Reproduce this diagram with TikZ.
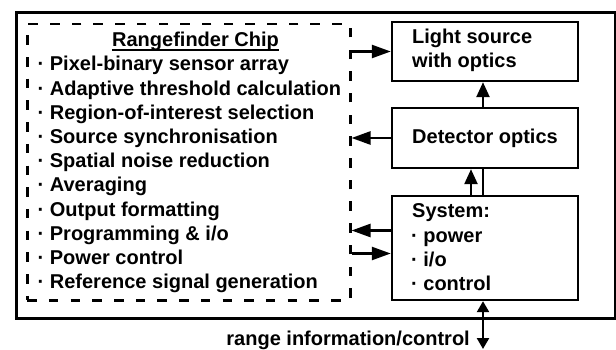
\documentclass[tikz,border=0pt]{standalone}
\usepackage{fontspec}
\setmainfont{Liberation Sans}
\usetikzlibrary{arrows.meta}
\begin{document}
\begin{tikzpicture}[x=1pt,y=-1pt,
  txt/.style={font=\fontsize{20}{24}\selectfont\bfseries, inner sep=0pt, anchor=base west},
  box/.style={draw, line width=2.4pt, minimum width=186pt, inner sep=0pt},
  arr/.style={line width=2.4pt, -{Triangle[length=19pt,width=13pt]}},
  varr/.style={line width=2.4pt, -{Triangle[length=15pt,width=13pt]}},
  plain/.style={line width=2.4pt}]
\useasboundingbox (0,0) rectangle (616,350);
% outer frame and chip box
\node[draw, line width=3pt, minimum width=599pt, minimum height=306pt, inner sep=0pt, anchor=north west] (outer) at (15,11) {};
\node[draw, line width=2.5pt, dash pattern=on 9.5pt off 12.2pt, minimum width=323pt, minimum height=276pt, inner sep=0pt, anchor=north west] (chip) at (26,23) {};
% boxes
\node[box, minimum height=59pt] (light) at (485,51.5) {};
\node[box, minimum height=60pt] (det) at (485,138) {};
\node[box, minimum height=104pt] (sys) at (485,248) {};
% chip texts
\node[txt, anchor=base] (title) at (195.5,47) {Rangefinder Chip};
\draw[line width=1.5pt] ([yshift=-3pt]title.base west) -- ([yshift=-3pt]title.base east);
\node[txt] (i1) at (37.5,71) {· Pixel-binary sensor array};
\node[txt] (i2) at (37.5,95.2) {· Adaptive threshold calculation};
\node[txt] (i3) at (37.5,119.4) {· Region-of-interest selection};
\node[txt] (i4) at (37.5,143.6) {· Source synchronisation};
\node[txt] (i5) at (37.5,167.8) {· Spatial noise reduction};
\node[txt] (i6) at (37.5,192) {· Averaging};
\node[txt] (i7) at (37.5,216.2) {· Output formatting};
\node[txt] (i8) at (37.5,240.4) {· Programming \& i/o};
\node[txt] (i9) at (37.5,264.6) {· Power control};
\node[txt] (i10) at (37.5,288.8) {· Reference signal generation};
% box texts
\node[txt] (lt1) at (412,43.3) {Light source};
\node[txt] (lt2) at (412,67.7) {with optics};
\node[txt] (dt) at (412,143.3) {Detector optics};
\node[txt] (st1) at (412,218) {System:};
\node[txt] (st2) at (411,242.2) {· power};
\node[txt] (st3) at (411,266.4) {· i/o};
\node[txt] (st4) at (411,290.6) {· control};
\node[txt, anchor=base east] (range) at (470,345) {range information/control};
% connectors
\draw[arr] (chip.east |- light.west) -- (light.west);
\draw[arr] (det.west) -- (chip.east |- det.west);
\draw[varr] ([xshift=-2pt]det.north) -- ([xshift=-2pt]light.south);
\draw[varr] ([xshift=-14pt]sys.north) -- ([xshift=-14pt]det.south);
\draw[plain] ([xshift=-2pt]sys.north) -- ([xshift=-2pt]det.south);
\coordinate (s1) at ([yshift=17.5pt]sys.west);
\coordinate (s2) at ([yshift=-5.5pt]sys.west);
\draw[arr] (s1) -- (chip.east |- s1);
\draw[arr] (chip.east |- s2) -- (s2);
\coordinate (rng) at (483,349);
\draw[line width=2.4pt, {Triangle[length=11pt,width=12pt]}-{Triangle[length=11pt,width=12pt]}] ([xshift=-2pt]sys.south) -- (rng);
\end{tikzpicture}
\end{document}
